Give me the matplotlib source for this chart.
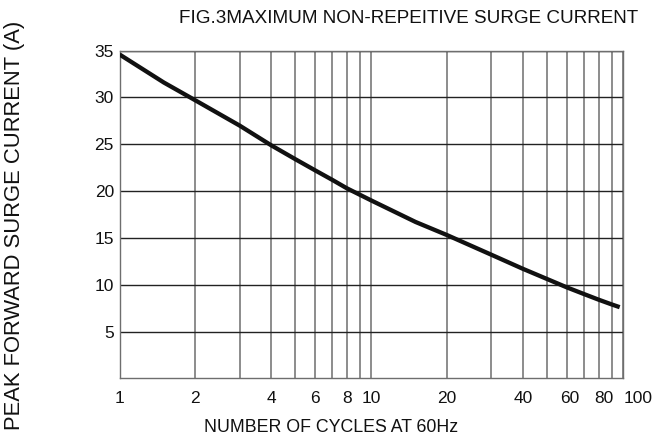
import matplotlib
matplotlib.use("Agg")
import matplotlib.pyplot as plt
from matplotlib.ticker import FixedLocator, NullFormatter
from matplotlib.transforms import ScaledTranslation

# curve (cycles, amps)
cycles = [1, 1.5, 2, 3, 4, 5, 6, 7, 8, 10, 15, 20, 30, 40, 50, 60, 70, 80, 90, 97]
current = [34.6, 31.6, 29.7, 27.0, 24.9, 23.4, 22.2, 21.2, 20.3, 19.0, 16.7, 15.3,
           13.2, 11.7, 10.6, 9.7, 9.0, 8.4, 7.9, 7.6]

x_ticks = [1, 2, 4, 6, 8, 10, 20, 40, 60, 80, 100]
x_grid = [1, 2, 3, 4, 5, 6, 7, 8, 9, 10, 20, 30, 40, 50, 60, 70, 80, 90, 100]
y_ticks = [5, 10, 15, 20, 25, 30, 35]

plt.rcParams['font.family'] = ['Liberation Sans', 'DejaVu Sans']

fig = plt.figure(figsize=(6.57, 4.42), dpi=100)
ax = fig.add_axes([0.1819, 0.1441, 0.7664, 0.7412])

ax.set_xscale('log')
ax.set_xlim(1, 100)
ax.set_ylim(0, 35)

for xv in x_grid:
    ax.axvline(xv, color='#6e6e6e', linewidth=1.1, zorder=1)
for yv in y_ticks:
    ax.axhline(yv, color='#222222', linewidth=1.0, zorder=1)

ax.plot(cycles, current, color='#111111', linewidth=3.1, solid_capstyle='butt',
        solid_joinstyle='round', zorder=3)

ax.xaxis.set_major_locator(FixedLocator(x_ticks))
ax.xaxis.set_minor_locator(FixedLocator([]))
ax.xaxis.set_minor_formatter(NullFormatter())
ax.set_xticklabels([str(v) for v in x_ticks])
ax.set_yticks(y_ticks)
ax.tick_params(axis='both', length=0, labelsize=12.5, colors='#111111')
ax.tick_params(axis='x', pad=9)
ax.tick_params(axis='y', pad=4)

# the last few labels sit a bit right of their grid lines in the original
nudge = {60: 1.5, 80: 4, 100: 11}
for val, lab in zip(x_ticks, ax.get_xticklabels()):
    if val in nudge:
        lab.set_transform(lab.get_transform() +
                          ScaledTranslation(nudge[val] / 72, 0, fig.dpi_scale_trans))

for s in ax.spines.values():
    s.set_color('#6e6e6e')
    s.set_linewidth(1.0)

fig.text(0.504, 0.032, 'NUMBER OF CYCLES AT 60Hz', fontsize=12.8,
         va='center', ha='center', color='#111111')
fig.text(0.022, 0.491, 'PEAK FORWARD SURGE CURRENT (A)', rotation=90, fontsize=15.8,
         va='center', ha='center', color='#111111')
fig.text(0.6225, 0.958, 'FIG.3MAXIMUM NON-REPEITIVE SURGE CURRENT', fontsize=13.6,
         va='center', ha='center', color='#111111')

fig.savefig('out.png', dpi=100)
